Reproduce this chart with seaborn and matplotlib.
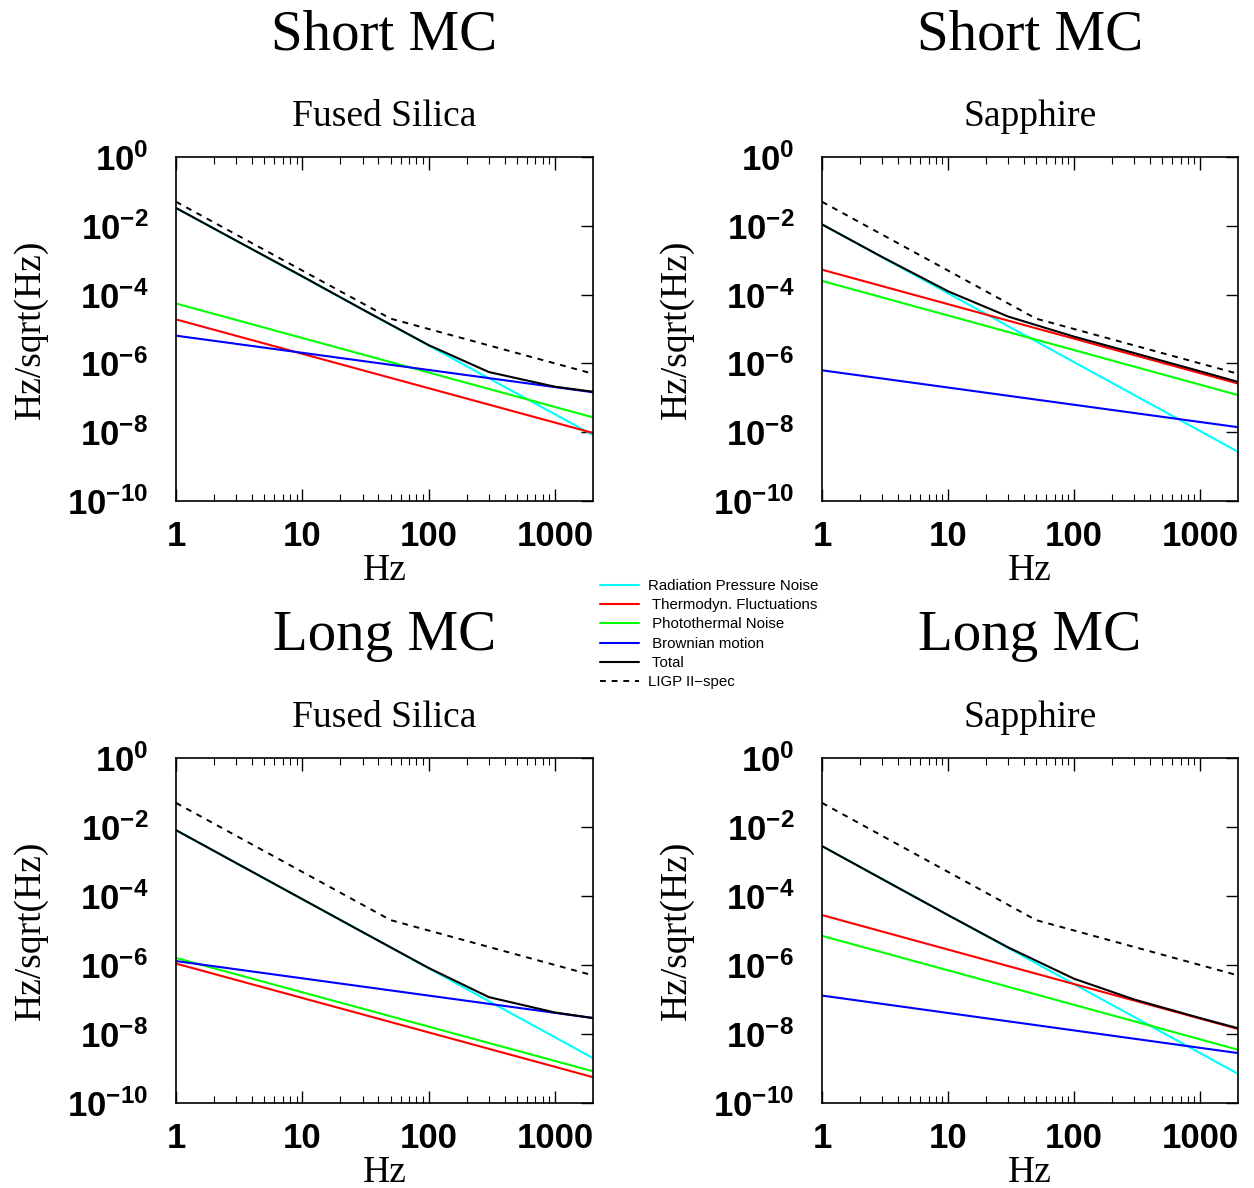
import numpy as np
import pandas as pd
import matplotlib
matplotlib.use("Agg")
import matplotlib.pyplot as plt
import seaborn as sns
from matplotlib.ticker import FixedLocator, NullFormatter, NullLocator

# ------------------------------------------------------------
# Dati (ampiezze in Hz/sqrt(Hz))
# ------------------------------------------------------------
freq_ends = [1, 2000]
freq_total = [1, 3, 10, 30, 100, 300, 1000, 2000]
freq_spec = [1, 50, 2000]
spec = [5e-2, 2e-5, 5e-7]

# Short MC - Fused Silica
sf_rad = [3.3e-2, 8.3e-9]
sf_thermo = [1.9e-5, 9.5e-9]
sf_photo = [5.5e-5, 2.7e-8]
sf_brown = [6.4e-6, 1.45e-7]
sf_total = [3.3e-2, 3.7e-3, 3.4e-4, 3.7e-5, 3.4e-6, 5.6e-7, 2.1e-7, 1.5e-7]

# Short MC - Sapphire
ss_rad = [1.1e-2, 2.7e-9]
ss_thermo = [5.3e-4, 2.6e-7]
ss_photo = [2.5e-4, 1.2e-7]
ss_brown = [6.3e-7, 1.4e-8]
ss_total = [1.1e-2, 1.24e-3, 1.25e-4, 2.3e-5, 6.0e-6, 2.0e-6, 5.9e-7, 2.9e-7]

# Long MC - Fused Silica
lf_rad = [8.1e-3, 2.0e-9]
lf_thermo = [1.1e-6, 5.6e-10]
lf_photo = [1.6e-6, 8.3e-10]
lf_brown = [1.3e-6, 2.9e-8]
lf_total = [8.1e-3, 9.0e-4, 8.1e-5, 9.0e-6, 8.2e-7, 1.17e-7, 4.2e-8, 2.9e-8]

# Long MC - Sapphire
ls_rad = [2.8e-3, 7.0e-10]
ls_thermo = [2.8e-5, 1.4e-8]
ls_photo = [7.0e-6, 3.5e-9]
ls_brown = [1.3e-7, 2.8e-9]
ls_total = [2.8e-3, 3.1e-4, 2.8e-5, 3.24e-6, 4.0e-7, 1.0e-7, 2.9e-8, 1.47e-8]

labels = ["Radiation Pressure Noise", " Thermodyn. Fluctuations",
          " Photothermal Noise", " Brownian motion", " Total", "LIGP II\u2212spec"]
colors = ["#00ffff", "#ff0000", "#00ff00", "#0000ff", "black", "black"]

x_ticks = [1, 10, 100, 1000]
x_ticklabels = ["1", "10", "100", "1000"]
y_ticks = [1e0, 1e-2, 1e-4, 1e-6, 1e-8, 1e-10]
y_ticklabels = [r"$\mathbf{10^{0}}$", r"$\mathbf{10^{-2}}$", r"$\mathbf{10^{-4}}$",
                r"$\mathbf{10^{-6}}$", r"$\mathbf{10^{-8}}$", r"$\mathbf{10^{-10}}$"]

panels = [
    ("Short MC", "Fused Silica", sf_rad, sf_thermo, sf_photo, sf_brown, sf_total),
    ("Short MC", "Sapphire", ss_rad, ss_thermo, ss_photo, ss_brown, ss_total),
    ("Long MC", "Fused Silica", lf_rad, lf_thermo, lf_photo, lf_brown, lf_total),
    ("Long MC", "Sapphire", ls_rad, ls_thermo, ls_photo, ls_brown, ls_total),
]

sns.set_theme(style="ticks")
plt.rcParams["font.family"] = ["Liberation Sans", "DejaVu Sans"]
plt.rcParams["mathtext.fontset"] = "custom"
plt.rcParams["mathtext.bf"] = "Liberation Sans:bold"
plt.rcParams["mathtext.rm"] = "Liberation Sans:bold"
plt.rcParams["text.color"] = "black"
plt.rcParams["axes.labelcolor"] = "black"
plt.rcParams["xtick.color"] = "black"
plt.rcParams["ytick.color"] = "black"

W, H = 1254, 1188
fig = plt.figure(figsize=(W / 100, H / 100), dpi=100)

# posizioni in pixel: (sinistra, alto, destra, basso)
boxes = [(176, 157, 593, 501), (822, 157, 1238, 501),
         (176, 758, 593, 1103), (822, 758, 1238, 1103)]

serif = ["Liberation Serif", "DejaVu Serif"]

for (title, sub, rad, thermo, photo, brown, total), (l, t, r, b) in zip(panels, boxes):
    ax = fig.add_axes([l / W, 1 - b / H, (r - l) / W, (b - t) / H])
    ax.set_xscale("log")
    ax.set_yscale("log")

    series = [(freq_ends, rad), (freq_ends, thermo), (freq_ends, photo),
              (freq_ends, brown), (freq_total, total), (freq_spec, spec)]
    for i, (fx, fy) in enumerate(series):
        df = pd.DataFrame({"Hz": fx, "amp": fy})
        if i == 5:
            sns.lineplot(data=df, x="Hz", y="amp", ax=ax, color=colors[i],
                         linewidth=1.4, linestyle=(0, (3, 3)), label=labels[i])
        else:
            sns.lineplot(data=df, x="Hz", y="amp", ax=ax, color=colors[i],
                         linewidth=1.5, label=labels[i])

    ax.set_xlim(1, 2000)
    ax.set_ylim(1e-10, 1)
    ax.set_xlabel("")
    ax.set_ylabel("")
    ax.get_legend().remove()

    ax.xaxis.set_major_locator(FixedLocator(x_ticks))
    ax.set_xticklabels(x_ticklabels, fontsize=25, fontweight="bold")
    minors = [m * d for d in [1, 10, 100, 1000] for m in range(2, 10) if m * d < 2000]
    ax.xaxis.set_minor_locator(FixedLocator(minors))
    ax.xaxis.set_minor_formatter(NullFormatter())
    ax.yaxis.set_major_locator(FixedLocator(y_ticks))
    ax.set_yticklabels(y_ticklabels, fontsize=25)
    ax.yaxis.set_minor_locator(NullLocator())

    ax.tick_params(axis="x", which="major", direction="in", top=True, bottom=True,
                   length=9, width=1, pad=14, color="black")
    ax.tick_params(axis="x", which="minor", direction="in", top=True, bottom=True,
                   length=5, width=0.8, color="black")
    ax.tick_params(axis="y", which="major", direction="in", left=False, right=True,
                   labelleft=True, length=9, width=1, pad=20, color="black")
    for s in ax.spines.values():
        s.set_color("black")
        s.set_linewidth(1.2)

    cx = (l + r) / 2 / W
    fig.text(cx, 1 - (t - 122) / H, title, ha="center", va="center",
             fontsize=41, family=serif)
    fig.text(cx, 1 - (t - 40) / H, sub, ha="center", va="center",
             fontsize=27, family=serif)
    fig.text(cx, 1 - (b + 70) / H, "Hz", ha="center", va="center",
             fontsize=27, family=serif)
    fig.text((l - 145) / W, 1 - (t + b) / 2 / H, "Hz/sqrt(Hz)", ha="center",
             va="center", rotation=90, fontsize=27, family=serif)

    if title == "Short MC" and sub == "Fused Silica":
        handles, hl = ax.get_legend_handles_labels()

fig.legend(handles, hl, loc="upper left", bbox_to_anchor=(600 / W, 1 - 579 / H),
           frameon=False, fontsize=10.8, handlelength=2.6, handletextpad=0.6,
           labelspacing=0.35, borderaxespad=0, borderpad=0)

fig.savefig("out.png", dpi=100)
